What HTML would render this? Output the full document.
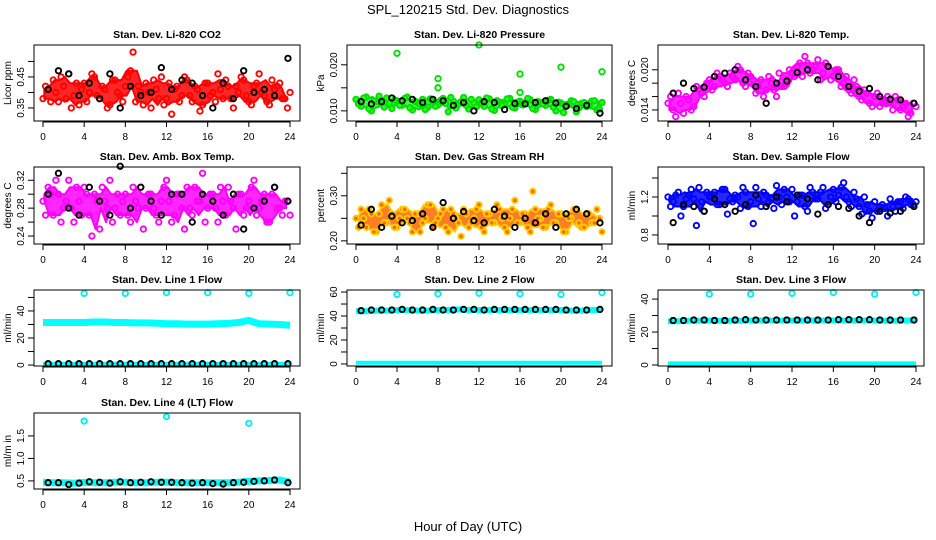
<!DOCTYPE html>
<html><head><meta charset="utf-8">
<style>
body{margin:0;background:#fff;}
svg{display:block;font-family:"Liberation Sans",sans-serif;}
</style></head>
<body>
<svg id="chart" width="936" height="540" viewBox="0 0 936 540" xmlns="http://www.w3.org/2000/svg">
<rect width="936" height="540" fill="#fff"/>
<text x="468" y="14" text-anchor="middle" font-size="13">SPL_120215  Std. Dev. Diagnostics</text>
<text x="468" y="531" text-anchor="middle" font-size="13">Hour of Day (UTC)</text>
</svg>
<script>
const xTicks = [0,4,8,12,16,20,24];
// CO2
const co2A = [0.38,0.41,0.44,0.37,0.42,0.46,0.39,0.36,0.43,0.40,0.45,0.38,0.41,0.36,0.44,0.39,0.42,0.47,0.37,0.40,0.43,0.35,0.41,0.45,0.38,0.33,0.42,0.39,0.44,0.37,0.41,0.36,0.43,0.40,0.46,0.38,0.42,0.35,0.40,0.44,0.37,0.42,0.46,0.39,0.36,0.41,0.43,0.38,0.40];
const co2B = [0.42,0.37,0.40,0.45,0.38,0.35,0.43,0.41,0.37,0.46,0.39,0.42,0.35,0.44,0.40,0.37,0.45,0.53,0.42,0.36,0.40,0.44,0.38,0.36,0.43,0.41,0.37,0.45,0.39,0.42,0.34,0.43,0.39,0.37,0.41,0.44,0.38,0.42,0.45,0.39,0.36,0.43,0.40,0.37,0.44,0.42,0.38,0.35];
const co2K = [0.41,0.47,0.46,0.39,0.43,0.38,0.46,0.35,0.42,0.39,0.40,0.48,0.41,0.44,0.43,0.39,0.35,0.43,0.38,0.47,0.40,0.41,0.39,0.51];
// Pressure
const presA = [0.0125,0.0110,0.0130,0.0100,0.0120,0.0115,0.0128,0.0105,0.0122,0.0112,0.0130,0.0102,0.0118,0.0125,0.0108,0.0120,0.0113,0.0127,0.0098,0.0121,0.0115,0.0129,0.0104,0.0118,0.0124,0.0110,0.0126,0.0101,0.0119,0.0114,0.0127,0.0106,0.0121,0.0116,0.0124,0.0103,0.0118,0.0112,0.0125,0.0100,0.0117,0.0111,0.0122,0.0098,0.0116,0.0109,0.0121,0.0102,0.0118];
const presB = [0.0115,0.0128,0.0105,0.0122,0.0132,0.0108,0.0117,0.0124,0.0112,0.0127,0.0107,0.0121,0.0114,0.0103,0.0126,0.0110,0.0123,0.0116,0.0129,0.0106,0.0120,0.0112,0.0125,0.0109,0.0117,0.0128,0.0104,0.0122,0.0111,0.0126,0.0108,0.0119,0.0113,0.0127,0.0105,0.0120,0.0115,0.0123,0.0108,0.0119,0.0096,0.0113,0.0120,0.0107,0.0118,0.0111,0.0122,0.0104];
const presK = [0.0120,0.0115,0.0120,0.0128,0.0122,0.0125,0.0118,0.0125,0.0122,0.0112,0.0118,0.0100,0.0120,0.0118,0.0103,0.0116,0.0115,0.0118,0.0122,0.0117,0.0110,0.0105,0.0112,0.0095];
const presSpikeHours = [4,8,8,12,16,16,20,24];
const presSpikeVals = [0.0225,0.0170,0.0150,0.0243,0.0180,0.0140,0.0195,0.0185];
// Li-820 Temp
const tempA = [0.0150,0.0140,0.0165,0.0135,0.0155,0.0145,0.0170,0.0160,0.0185,0.0175,0.0190,0.0180,0.0195,0.0185,0.0200,0.0175,0.0190,0.0165,0.0185,0.0170,0.0180,0.0160,0.0175,0.0185,0.0195,0.0205,0.0190,0.0210,0.0200,0.0215,0.0195,0.0205,0.0190,0.0200,0.0180,0.0170,0.0185,0.0160,0.0170,0.0150,0.0160,0.0145,0.0155,0.0150,0.0160,0.0140,0.0150,0.0135,0.0145];
const tempB = [0.0160,0.0130,0.0150,0.0160,0.0140,0.0175,0.0165,0.0180,0.0170,0.0195,0.0185,0.0175,0.0190,0.0205,0.0180,0.0195,0.0185,0.0175,0.0160,0.0190,0.0170,0.0195,0.0175,0.0200,0.0190,0.0210,0.0220,0.0195,0.0205,0.0185,0.0210,0.0185,0.0200,0.0175,0.0190,0.0165,0.0175,0.0155,0.0165,0.0145,0.0165,0.0150,0.0160,0.0140,0.0155,0.0145,0.0130,0.0150];
const tempK = [0.0165,0.0180,0.0172,0.0174,0.0190,0.0195,0.0200,0.0185,0.0175,0.0150,0.0180,0.0183,0.0196,0.0200,0.0185,0.0205,0.0190,0.0175,0.0168,0.0172,0.0160,0.0156,0.0155,0.0150];
// Amb box temp
const ambA = [0.29,0.31,0.27,0.30,0.28,0.32,0.26,0.29,0.31,0.27,0.30,0.25,0.29,0.32,0.28,0.27,0.30,0.26,0.29,0.31,0.28,0.30,0.27,0.29,0.32,0.26,0.30,0.28,0.31,0.27,0.29,0.33,0.28,0.30,0.26,0.29,0.31,0.28,0.30,0.27,0.29,0.32,0.28,0.30,0.26,0.31,0.28,0.29,0.27];
const ambB = [0.27,0.30,0.32,0.26,0.29,0.28,0.31,0.27,0.30,0.24,0.29,0.31,0.28,0.26,0.30,0.29,0.27,0.31,0.28,0.25,0.30,0.28,0.26,0.31,0.29,0.27,0.30,0.25,0.28,0.31,0.29,0.26,0.30,0.28,0.31,0.27,0.29,0.25,0.30,0.28,0.31,0.27,0.29,0.26,0.30,0.28,0.27,0.29];
const ambK = [0.30,0.33,0.28,0.27,0.31,0.29,0.27,0.34,0.28,0.31,0.29,0.27,0.30,0.30,0.26,0.30,0.29,0.27,0.30,0.25,0.28,0.29,0.31,0.29];
// Gas stream RH
const rhA = [0.25,0.27,0.23,0.26,0.22,0.28,0.24,0.26,0.23,0.27,0.25,0.22,0.26,0.24,0.28,0.23,0.25,0.27,0.22,0.26,0.24,0.27,0.23,0.25,0.28,0.22,0.26,0.24,0.27,0.23,0.25,0.29,0.24,0.26,0.22,0.27,0.25,0.23,0.28,0.24,0.26,0.22,0.25,0.27,0.23,0.26,0.24,0.27,0.22];
const rhB = [0.23,0.25,0.27,0.22,0.26,0.24,0.29,0.23,0.25,0.27,0.24,0.26,0.22,0.25,0.28,0.24,0.26,0.23,0.27,0.25,0.21,0.26,0.24,0.27,0.23,0.26,0.24,0.28,0.25,0.22,0.27,0.24,0.26,0.23,0.31,0.25,0.23,0.27,0.24,0.26,0.22,0.25,0.27,0.24,0.23,0.26,0.24,0.25];
const rhK = [0.235,0.27,0.23,0.255,0.24,0.245,0.26,0.23,0.285,0.25,0.265,0.245,0.24,0.27,0.255,0.23,0.25,0.24,0.26,0.23,0.26,0.27,0.26,0.24];
// Sample flow
const sfA = [1.20,1.15,1.25,1.10,1.22,1.18,1.30,1.05,1.20,1.25,1.12,1.28,1.18,1.22,1.08,1.25,1.15,1.30,1.10,1.22,1.18,1.32,1.12,1.20,1.28,1.15,1.22,1.05,1.25,1.18,1.30,1.12,1.28,1.22,1.35,1.15,1.25,1.10,1.20,1.05,1.15,1.10,1.08,1.18,1.05,1.15,1.20,1.12,1.15];
const sfB = [1.10,1.22,1.00,1.18,1.28,0.90,1.15,1.25,1.20,1.12,1.28,1.02,1.15,1.20,1.30,1.10,0.92,1.18,1.25,1.15,1.08,1.20,1.28,1.15,1.00,1.22,1.10,1.30,1.18,1.25,1.08,1.20,1.15,1.30,1.20,1.10,1.18,1.02,1.12,0.98,1.05,1.12,1.00,1.10,1.15,1.08,1.18,1.12];
const sfK = [0.93,1.12,1.10,1.05,1.18,1.12,1.05,1.12,1.22,1.10,1.20,1.15,1.22,1.18,1.02,1.12,1.10,1.08,1.00,0.93,1.05,1.03,1.05,1.10];
// Line flows (hourly band values 0..24)
const l1High = [31.5,31.5,31.5,31.5,31.5,31.8,31.8,31.5,31.5,31.2,31.2,31.0,30.5,30.5,30.3,30.3,30.3,30.5,30.8,31.5,33.0,30.5,30.3,30.0,29.5];
const l1Low = [1,1,1,1,1,1,1,1,1,1,1,1,1,1,1,1,1,1,1,1,1,1,1,1,1];
const l1K = [1,1,1,1,1,1,1,1,1,1,1,1,1,1,1,1,1,1,1,1,1,1,1,1];
const l1Spikes = [53,53,53.5,53.5,53,53.5];
const l2High = [44,44,44.5,44.5,45,45,44.5,44.5,45,45,45.5,45,45,45,45,45,45,45,45,45,45,44.5,44.5,45,45];
const l2Low = [1,1,1,1,1,1,1,1,1,1,1,1,1,1,1,1,1,1,1,1,1,1,1,1,1];
const l2K = [44.5,45,45,45,45.5,45,45,45.5,45,45,45.5,45.5,45,45.5,45.5,45.5,45.5,45.5,45.5,45.5,45,45,45,45.5];
const l2Spikes = [58,58.5,59,58.5,58,59.5];
const l3High = [26.5,26.5,26.8,26.8,27,26.8,26.8,26.8,27,27,27,27,27,27,27,27,27,27,27,27,27,26.8,26.8,27,27];
const l3Low = [1,1,1,1,1,1,1,1,1,1,1,1,1,1,1,1,1,1,1,1,1,1,1,1,1];
const l3K = [27,27,27.3,27.3,27,27,27.3,27.5,27.3,27.3,27.3,27.3,27.3,27.3,27.3,27.3,27.5,27.5,27.5,27.5,27.3,27.3,27.3,27.3];
const l3Spikes = [43,43,43.5,44,43,44];
const l4Band = [0.47,0.46,0.46,0.45,0.47,0.46,0.46,0.47,0.47,0.46,0.46,0.47,0.47,0.46,0.46,0.46,0.46,0.46,0.46,0.47,0.49,0.50,0.51,0.52,0.47];
const l4K = [0.46,0.46,0.42,0.45,0.48,0.47,0.45,0.48,0.46,0.47,0.48,0.47,0.47,0.46,0.45,0.46,0.44,0.43,0.46,0.47,0.49,0.50,0.52,0.46];
const l4SpikeHours = [4,12,20];
const l4SpikeVals = [1.83,1.93,1.78];

const NS = "http://www.w3.org/2000/svg";
const svg = document.getElementById('chart');
const cols = [{l:34,r:300,x0:43,x24:290},{l:347,r:612,x0:356,x24:602},{l:658,r:924,x0:668,x24:916}];
const rows = [{t:45,b:121},{t:167,b:244},{t:290,b:366},{t:413,b:489}];

function mk(tag, attrs, parent){
  const e = document.createElementNS(NS, tag);
  for (const k in attrs) e.setAttribute(k, attrs[k]);
  (parent||svg).appendChild(e);
  return e;
}

function makePanel(ci, ri, title, ylab, ymin, ymax, yticks, ylabels){
  const c = cols[ci], r = rows[ri];
  const g = mk('g', {});
  
  
  const p = {c, r, g,
    x: h => c.x0 + h*(c.x24-c.x0)/24,
    y: v => r.b - (v-ymin)/(ymax-ymin)*(r.b-r.t)};
  const tt = mk('text', {x:(c.l+c.r)/2, y:r.t-7, 'text-anchor':'middle', 'font-size':10.5, 'font-weight':'bold'}, g);
  tt.textContent = title;
  
  
  const yx = c.l-23, ym = (r.t+r.b)/2;
  const yl = mk('text', {x:yx, y:ym, 'text-anchor':'middle', 'font-size':10, transform:`rotate(-90 ${yx} ${ym})`}, g);
  yl.textContent = ylab;
  
  
  mk('line', {x1:p.x(0), x2:p.x(24), y1:r.b+1, y2:r.b+1, stroke:'#000'}, g);
  xTicks.forEach(h=>{
    mk('line', {x1:p.x(h), x2:p.x(h), y1:r.b, y2:r.b+6, stroke:'#000'}, g);
    const t = mk('text', {x:p.x(h), y:r.b+19, 'text-anchor':'middle', 'font-size':10}, g);
    t.textContent = h;
    
    
  });
  yticks.forEach((v,i)=>{
    const yy = p.y(v);
    mk('line', {x1:c.l-6, x2:c.l, y1:yy, y2:yy, stroke:'#000'}, g);
    if (ylabels[i] !== '') {
      const tx = c.l-10;
      const t = mk('text', {x:tx, y:yy, 'text-anchor':'middle', 'font-size':10, transform:`rotate(-90 ${tx} ${yy})`}, g);
      t.textContent = ylabels[i];
      
      
    }
  });
  mk('line', {x1:c.l, x2:c.l, y1:p.y(yticks[0]), y2:p.y(yticks[yticks.length-1]), stroke:'#000'}, g);
  p.pg = mk('g', {}, g);
  
  
  const box = mk('rect', {x:c.l, y:r.t, width:c.r-c.l, height:r.b-r.t, fill:'none', stroke:'#000', 'stroke-width':1}, g);
  
  
  return p;
}

function pt(p, h, v, stroke, fill){
  const e = mk('circle', {cx:p.x(h), cy:p.y(v), r:2.7, fill:fill||'none', stroke:stroke, 'stroke-width':1.9}, p.pg);
  
  
}
function cloud(p, A, B, stroke, fill){
  // envelope: 2nd-highest / 2nd-lowest of neighbouring samples
  const n = Math.min(A.length, B.length);
  let up = [], dn = [];
  for (let i=0;i<n;i++){
    const h = i*0.5+0.125;
    const w = [A[i], B[i]];
    if (i>0) { w.push(A[i-1], B[i-1]); }
    if (i<n-1) { w.push(A[i+1], B[i+1]); }
    w.sort((a,b)=>a-b);
    up.push(p.x(h).toFixed(1)+','+p.y(w[w.length-2]).toFixed(1));
    dn.unshift(p.x(h).toFixed(1)+','+p.y(w[1]).toFixed(1));
  }
  const env = mk('polygon', {points: up.concat(dn).join(' '), fill: fill||stroke, 'fill-opacity':0.85, stroke: stroke, 'stroke-width':2, 'stroke-linejoin':'round'}, p.pg);
  
  
  A.forEach((v,i)=>pt(p, i*0.5, v, stroke, fill));
  B.forEach((v,i)=>pt(p, i*0.5+0.25, v, stroke, fill));
}
function blacks(p, K){ K.forEach((v,i)=>pt(p, i+0.5 + (i===K.length-1?0.3:0), v, '#000')); }
function band(p, vals, color, w){
  const d = vals.map((v,i)=>(i?'L':'M')+p.x(i).toFixed(1)+' '+p.y(v).toFixed(1)).join(' ');
  const e = mk('path', {d, fill:'none', stroke:color, 'stroke-width':w, 'stroke-linejoin':'round'}, p.pg);
  
  
}
const spikeHours = [4,8,12,16,20,24];

let p = makePanel(0,0,'Stan. Dev. Li-820 CO2','Licor ppm',0.308,0.553,[0.35,0.40,0.45,0.50],['0.35','','0.45','']);
cloud(p, co2A, co2B, '#ff0000'); blacks(p, co2K);
p = makePanel(1,0,'Stan. Dev. Li-820 Pressure','kPa',0.0078,0.0243,[0.010,0.015,0.020],['0.010','','0.020']);
cloud(p, presA, presB, '#00dd00', '#22ff22'); blacks(p, presK);
presSpikeVals.forEach((v,i)=>pt(p, presSpikeHours[i], v, '#00dd00'));
p = makePanel(2,0,'Stan. Dev. Li-820 Temp.','degrees C',0.01235,0.0237,[0.014,0.016,0.018,0.020],['0.014','','','0.020']);
cloud(p, tempA, tempB, '#ff00ff'); blacks(p, tempK);
p = makePanel(0,1,'Stan. Dev. Amb. Box Temp.','degrees C',0.2286,0.339,[0.24,0.26,0.28,0.30,0.32],['0.24','','0.28','','0.32']);
cloud(p, ambA, ambB, '#ff00ff'); blacks(p, ambK);
p = makePanel(1,1,'Stan. Dev. Gas Stream RH','percent',0.193,0.364,[0.20,0.25,0.30,0.35],['0.20','','0.30','']);
cloud(p, rhA, rhB, '#ffcc00', '#ff6600'); blacks(p, rhK);
p = makePanel(2,1,'Stan. Dev. Sample Flow','ml/min',0.705,1.516,[0.8,1.0,1.2,1.4],['0.8','','1.2','']);
cloud(p, sfA, sfB, '#0000ff'); blacks(p, sfK);
p = makePanel(0,2,'Stan. Dev. Line 1 Flow','ml/min',-0.7,55.5,[0,10,20,30,40,50],['0','','20','','40','']);
band(p, l1High, '#00ffff', 7); band(p, l1Low, '#00ffff', 4); blacks(p, l1K);
l1Spikes.forEach((v,i)=>pt(p, spikeHours[i], v, '#00eeee'));
p = makePanel(1,2,'Stan. Dev. Line 2 Flow','ml/min',-1.7,61.7,[0,10,20,30,40,50,60],['0','','20','','40','','60']);
band(p, l2High, '#00ffff', 6); band(p, l2Low, '#00ffff', 4); blacks(p, l2K);
l2Spikes.forEach((v,i)=>pt(p, spikeHours[i], v, '#00eeee'));
p = makePanel(2,2,'Stan. Dev. Line 3 Flow','ml/min',-0.6,45.5,[0,10,20,30,40],['0','','20','','40']);
band(p, l3High, '#00ffff', 6); band(p, l3Low, '#00ffff', 4); blacks(p, l3K);
l3Spikes.forEach((v,i)=>pt(p, spikeHours[i], v, '#00eeee'));
p = makePanel(0,3,'Stan. Dev. Line 4 (LT) Flow','ml/m in',0.32,2.01,[0.5,1.0,1.5],['0.5','1.0','1.5']);
band(p, l4Band, '#00ffff', 7); blacks(p, l4K);
l4SpikeVals.forEach((v,i)=>pt(p, l4SpikeHours[i], v, '#00eeee'));
</script>
</body></html>
